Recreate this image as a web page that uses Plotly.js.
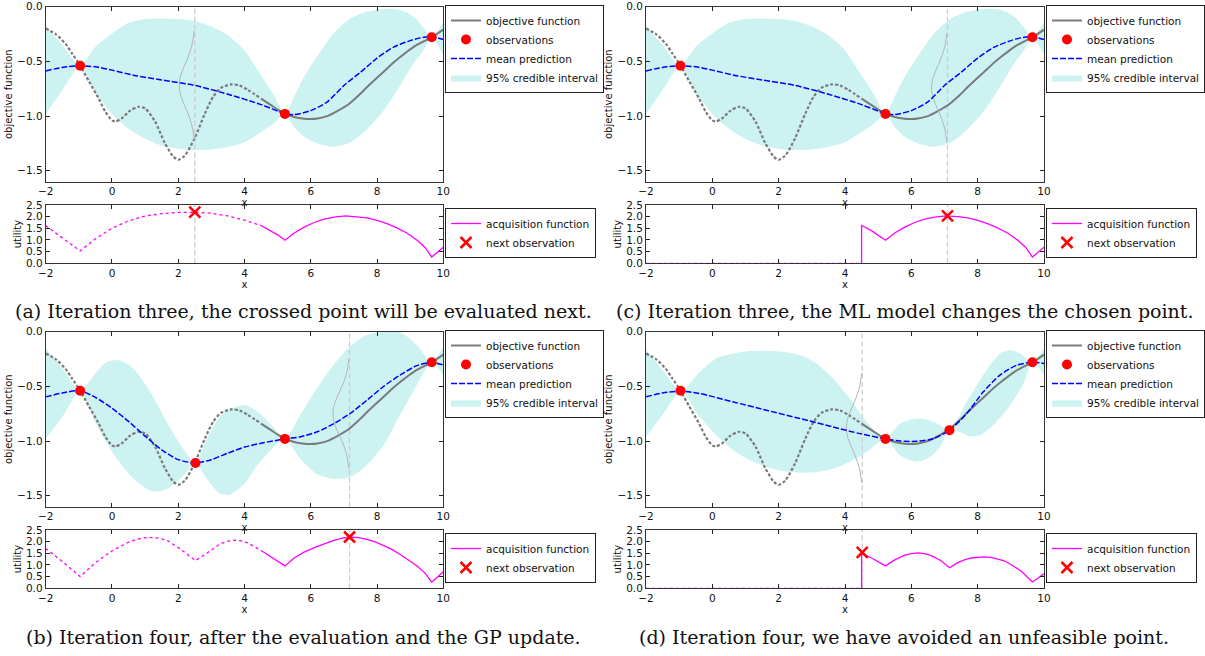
<!DOCTYPE html>
<html>
<head>
<meta charset="utf-8">
<script src="https://cdn.plot.ly/plotly-3.0.1.min.js"></script>
<style>html,body{margin:0;padding:0;background:#fff;}#chart{width:1205px;height:656px;}</style>
</head>
<body>
<div id="chart"></div>
<script>
// ---------------- DATA ----------------
const feasibleFrom = 4.5;

const objectiveX = [-2,-1.7,-1.4,-1.2,-0.96,-0.7,-0.4,-0.2,0,0.1,0.3,0.55,0.8,1.0,1.3,1.6,1.85,2.0,2.2,2.5,2.8,3.06,3.3,3.6,3.85,4.1,4.5,4.8,5.0,5.22,5.5,5.8,6.0,6.2,6.5,6.8,7.15,7.45,7.7,8.0,8.2,8.5,8.7,9.0,9.2,9.45,9.65,10];
const objectiveY = [-0.2,-0.25,-0.34,-0.43,-0.54,-0.68,-0.84,-0.96,-1.04,-1.05,-1.02,-0.95,-0.915,-0.93,-1.05,-1.25,-1.37,-1.4,-1.36,-1.2,-0.98,-0.82,-0.74,-0.71,-0.72,-0.76,-0.84,-0.9,-0.94,-0.98,-1.008,-1.024,-1.027,-1.022,-1.0,-0.955,-0.89,-0.81,-0.735,-0.65,-0.595,-0.51,-0.46,-0.39,-0.35,-0.31,-0.28,-0.21];

// Iteration three (panels a and c share the GP state)
const meanAX = [-2,-1.5,-0.96,-0.5,0,0.65,1.5,2.5,3.5,4.5,5.22,5.5,6.0,6.5,7.0,7.5,8.0,8.5,9.0,9.3,9.65,10];
const meanAY = [-0.587,-0.555,-0.54,-0.55,-0.58,-0.626,-0.67,-0.72,-0.8,-0.895,-0.978,-0.987,-0.95,-0.87,-0.72,-0.6,-0.47,-0.37,-0.31,-0.285,-0.275,-0.3];
const bandAX = [-2,-1.5,-0.96,-0.5,0,0.5,1.0,1.5,2.0,2.5,3.0,3.5,4.0,4.5,4.87,5.22,5.5,5.8,6.2,6.7,7.2,7.7,8.2,8.7,9.1,9.4,9.65,10];
const upperAY = [-0.18,-0.35,-0.54,-0.367,-0.245,-0.147,-0.113,-0.107,-0.113,-0.13,-0.18,-0.26,-0.4,-0.63,-0.8,-0.978,-0.82,-0.64,-0.45,-0.24,-0.107,-0.045,-0.02,-0.03,-0.09,-0.19,-0.28,-0.14];
const lowerAY = [-0.98,-0.764,-0.54,-0.78,-0.98,-1.115,-1.207,-1.27,-1.3,-1.31,-1.305,-1.283,-1.24,-1.146,-1.07,-0.978,-1.1,-1.19,-1.25,-1.28,-1.24,-1.12,-0.95,-0.72,-0.52,-0.4,-0.28,-0.44];
const obsAX = [-0.96,5.22,9.65];
const obsAY = [-0.54,-0.98,-0.28];

// Iteration four (panel b)
const meanBX = [-2,-1.5,-0.96,-0.5,0,0.5,1.0,1.5,2.0,2.52,3.0,3.5,4.0,4.5,5.22,5.7,6.2,6.7,7.2,7.7,8.2,8.7,9.2,9.65,10];
const meanBY = [-0.596,-0.56,-0.54,-0.6,-0.7,-0.82,-0.955,-1.08,-1.17,-1.2,-1.17,-1.11,-1.055,-1.02,-0.98,-0.96,-0.915,-0.84,-0.745,-0.625,-0.5,-0.395,-0.31,-0.28,-0.305];
const upperBX = [-2,-1.5,-0.96,-0.46,-0.16,0.2,0.65,1.15,1.65,2.15,2.52,2.86,3.2,3.46,4.02,4.47,4.87,5.22,5.68,6.18,6.68,7.18,7.69,8.19,8.69,9.2,9.65,10];
const upperBY = [-0.153,-0.33,-0.54,-0.367,-0.275,-0.26,-0.336,-0.55,-0.825,-1.07,-1.2,-0.978,-0.8,-0.72,-0.67,-0.75,-0.871,-0.98,-0.764,-0.52,-0.306,-0.137,-0.031,0,-0.006,-0.122,-0.28,-0.137];
const lowerBX = [-2,-1.5,-0.96,-0.46,0.14,0.65,1.15,1.45,1.85,2.25,2.52,2.86,3.26,3.56,3.96,4.47,5.22,5.68,6.18,6.68,7.18,7.69,8.19,8.69,9.2,9.65,10];
const lowerBY = [-0.978,-0.78,-0.54,-0.855,-1.16,-1.344,-1.451,-1.46,-1.405,-1.283,-1.2,-1.344,-1.48,-1.49,-1.405,-1.19,-0.98,-1.16,-1.3,-1.344,-1.33,-1.22,-1.04,-0.764,-0.489,-0.28,-0.397];
const obsBX = [-0.96,2.52,5.22,9.65];
const obsBY = [-0.54,-1.2,-0.98,-0.28];

// Iteration four with the ML model (panel d)
const meanDX = [-2,-1.5,-0.94,-0.38,0.63,1.63,2.64,3.64,4.45,5.22,5.66,6.16,6.66,7.15,7.67,8.17,8.67,9.18,9.65,10];
const meanDY = [-0.596,-0.56,-0.544,-0.565,-0.642,-0.718,-0.794,-0.871,-0.932,-0.98,-1.0,-1.002,-0.978,-0.9,-0.749,-0.55,-0.397,-0.306,-0.28,-0.29];
const upperDX = [-2,-1.5,-0.94,-0.38,0.12,0.63,1.13,1.63,2.13,2.64,3.14,3.64,4.15,4.65,5.22,5.66,6.16,6.56,6.86,7.15,7.67,8.17,8.67,8.98,9.28,9.65,10];
const upperDY = [-0.168,-0.35,-0.544,-0.367,-0.244,-0.2,-0.177,-0.174,-0.183,-0.214,-0.29,-0.428,-0.611,-0.825,-0.98,-0.84,-0.794,-0.81,-0.856,-0.9,-0.642,-0.397,-0.2,-0.168,-0.2,-0.28,-0.153];
const lowerDX = [-2,-1.5,-0.94,-0.38,0.12,0.63,1.13,1.63,2.13,2.64,3.14,3.64,4.15,4.65,5.22,5.66,6.16,6.56,6.86,7.15,7.46,7.77,8.07,8.47,8.98,9.38,9.65,10];
const lowerDY = [-0.962,-0.76,-0.544,-0.78,-0.947,-1.085,-1.176,-1.237,-1.274,-1.289,-1.283,-1.253,-1.19,-1.1,-0.98,-1.13,-1.19,-1.146,-1.054,-0.9,-0.917,-0.956,-0.947,-0.856,-0.672,-0.474,-0.28,-0.397];
const obsDX = [-0.96,5.22,7.15,9.65];
const obsDY = [-0.54,-0.98,-0.9,-0.28];

// predictive distribution drawn sideways at the next point
const gaussAX = [2.479,2.462,2.437,2.398,2.347,2.285,2.215,2.145,2.085,2.045,2.03,2.045,2.085,2.145,2.215,2.285,2.347,2.398,2.437,2.462,2.479];
const gaussAY = [-0.22,-0.27,-0.32,-0.37,-0.42,-0.47,-0.52,-0.57,-0.62,-0.67,-0.72,-0.77,-0.82,-0.87,-0.92,-0.97,-1.02,-1.07,-1.12,-1.17,-1.22];
const gaussCX = [7.069,7.051,7.026,6.986,6.934,6.87,6.799,6.728,6.666,6.625,6.61,6.625,6.666,6.728,6.799,6.87,6.934,6.986,7.026,7.051,7.069];
const gaussCY = [-0.24,-0.29,-0.34,-0.39,-0.44,-0.49,-0.54,-0.59,-0.64,-0.69,-0.74,-0.79,-0.84,-0.89,-0.94,-0.99,-1.04,-1.09,-1.14,-1.19,-1.24];
const gaussBX = [7.148,7.13,7.102,7.062,7.008,6.941,6.867,6.792,6.729,6.685,6.67,6.685,6.729,6.792,6.867,6.941,7.008,7.062,7.102,7.13,7.148];
const gaussBY = [-0.25,-0.3,-0.35,-0.4,-0.45,-0.5,-0.55,-0.6,-0.65,-0.7,-0.75,-0.8,-0.85,-0.9,-0.95,-1.0,-1.05,-1.1,-1.15,-1.2,-1.25];
const gaussDX = [4.499,4.481,4.456,4.416,4.364,4.3,4.229,4.158,4.096,4.055,4.04,4.055,4.096,4.158,4.229,4.3,4.364,4.416,4.456,4.481,4.499];
const gaussDY = [-0.38,-0.43,-0.48,-0.53,-0.58,-0.63,-0.68,-0.73,-0.78,-0.83,-0.88,-0.93,-0.98,-1.03,-1.08,-1.13,-1.18,-1.23,-1.28,-1.33,-1.38];

// acquisition functions
const acqAX = [-2,-1.5,-0.96,-0.5,0,0.5,1.0,1.5,2.0,2.5,3.0,3.5,4.0,4.5,4.8,5.0,5.22,5.5,5.8,6.1,6.4,6.7,7.05,7.4,7.7,8.0,8.3,8.6,8.9,9.2,9.45,9.65,10];
const acqAY = [1.61,1.1,0.53,1.05,1.5,1.82,2.03,2.13,2.18,2.19,2.15,2.03,1.85,1.62,1.4,1.22,0.99,1.3,1.55,1.75,1.89,1.98,2.03,2.0,1.95,1.84,1.7,1.52,1.3,1.0,0.68,0.27,0.69];
const acqCX = [-2,4.5,4.5,4.8,5.0,5.22,5.5,5.8,6.1,6.4,6.7,7.05,7.4,7.7,8.0,8.3,8.6,8.9,9.2,9.45,9.65,10];
const acqCY = [0,0,1.62,1.4,1.22,0.99,1.3,1.55,1.75,1.89,1.98,2.03,2.0,1.95,1.84,1.7,1.52,1.3,1.0,0.68,0.27,0.69];
const acqBX = [-2,-1.5,-0.96,-0.5,0,0.5,0.8,1.1,1.4,1.65,2.05,2.52,2.86,3.26,3.5,3.7,3.9,4.1,4.5,4.87,5.22,5.5,5.8,6.18,6.45,6.68,6.95,7.17,7.45,7.69,7.95,8.19,8.45,8.7,8.95,9.2,9.45,9.65,10];
const acqBY = [1.71,1.15,0.5,1.1,1.6,1.98,2.12,2.19,2.15,2.07,1.7,1.19,1.5,1.9,2.02,2.06,2.03,1.95,1.62,1.29,0.96,1.3,1.55,1.79,1.94,2.04,2.15,2.2,2.17,2.1,1.99,1.85,1.67,1.45,1.22,0.97,0.65,0.26,0.71];
const acqDX = [-2,4.5,4.5,4.8,5.0,5.22,5.5,5.8,6.0,6.2,6.4,6.6,6.9,7.15,7.4,7.6,7.8,8.0,8.2,8.4,8.6,8.8,9.0,9.3,9.65,10];
const acqDY = [0,0,1.5,1.3,1.15,0.96,1.22,1.42,1.49,1.52,1.49,1.4,1.18,0.88,1.1,1.22,1.3,1.34,1.35,1.33,1.27,1.18,1.02,0.75,0.27,0.62];

const nextAX = [2.5],  nextAY = [2.19];
const nextCX = [7.09], nextCY = [2.03];
const nextBX = [7.17], nextBY = [2.2];
const nextDX = [4.52], nextDY = [1.54];

const captions = [
  "(a) Iteration three, the crossed point will be evaluated next.",
  "(c) Iteration three, the ML model changes the chosen point.",
  "(b) Iteration four, after the evaluation and the GP update.",
  "(d) Iteration four, we have avoided an unfeasible point."
];
const legendLabels = ["objective function","observations","mean prediction","95% credible interval","acquisition function","next observation"];
const xTicks = [-2,0,2,4,6,8,10];

// ---------------- PLOTTING ----------------
const W = 1205, H = 656;
const yRangeMain = [-1.6, 0], yRangeAcq = [0, 2.5];

function split(xs, ys) {
  const k = xs.findIndex(v => v >= feasibleFrom);
  return {ix: xs.slice(0, k + 1), iy: ys.slice(0, k + 1), fx: xs.slice(k), fy: ys.slice(k)};
}

const panels = [
  {mean:[meanAX,meanAY], up:[bandAX,upperAY], lo:[bandAX,lowerAY], obs:[obsAX,obsAY], g:[gaussAX,gaussAY], acq:[acqAX,acqAY], nx:[nextAX,nextAY], col:0, row:0},
  {mean:[meanAX,meanAY], up:[bandAX,upperAY], lo:[bandAX,lowerAY], obs:[obsAX,obsAY], g:[gaussCX,gaussCY], acq:[acqCX,acqCY], nx:[nextCX,nextCY], col:1, row:0},
  {mean:[meanBX,meanBY], up:[upperBX,upperBY], lo:[lowerBX,lowerBY], obs:[obsBX,obsBY], g:[gaussBX,gaussBY], acq:[acqBX,acqBY], nx:[nextBX,nextBY], col:0, row:1},
  {mean:[meanDX,meanDY], up:[upperDX,upperDY], lo:[lowerDX,lowerDY], obs:[obsDX,obsDY], g:[gaussDX,gaussDY], acq:[acqDX,acqDY], nx:[nextDX,nextDY], col:1, row:1}
];

const colPx = [[45.7, 443.3], [646.0, 1044.0]];
const rowMainPx = [[6.7, 181.7], [331.7, 506.7]];
const rowAcqPx = [[205.0, 263.3], [530.0, 588.3]];
const legendXPx = [445, 1046];
const legMainTopPx = [5, 330];
const legAcqTopPx = [208, 533];
const capCenterPx = [303, 904];
const capYPx = [311, 637];

const GRAY = '#7a7a7a', BLUE = '#0000ff', CYAN = '#ccf2f2', MAG = '#ff00ff', RED = '#ff0000';
const tickFont = {family:'DejaVu Sans', size:10.5, color:'#111'};
const titleFont = {family:'DejaVu Sans', size:10, color:'#111'};

const data = [];
const layout = {
  width: W, height: H, margin: {l:0, r:0, t:0, b:0},
  paper_bgcolor: '#fff', plot_bgcolor: '#fff',
  showlegend: true, annotations: []
};

function axisCommon() {
  return {ticks:'inside', ticklen:4, tickwidth:1, tickcolor:'#222', mirror:'ticks', showline:true,
          linecolor:'#333', linewidth:1, showgrid:false, zeroline:false, tickfont:tickFont};
}

panels.forEach((p, i) => {
  const mi = 2*i + 1, ai = 2*i + 2;
  const mx = 'x' + (mi === 1 ? '' : mi), my = 'y' + (mi === 1 ? '' : mi);
  const ax = 'x' + ai, ay = 'y' + ai;
  const legM = 'legend' + (mi === 1 ? '' : mi), legA = 'legend' + ai;
  const cx = colPx[p.col], rm = rowMainPx[p.row], ra = rowAcqPx[p.row];

  layout['xaxis' + (mi === 1 ? '' : mi)] = Object.assign(axisCommon(), {
    domain:[cx[0]/W, cx[1]/W], range:[-2,10], tickvals:xTicks, anchor:my,
    title:{text:'x', font:titleFont, standoff:0}
  });
  layout['yaxis' + (mi === 1 ? '' : mi)] = Object.assign(axisCommon(), {
    domain:[1 - rm[1]/H, 1 - rm[0]/H], range:yRangeMain, dtick:0.5, tick0:0, tickformat:'.1f', anchor:mx,
    title:{text:'objective function', font:titleFont, standoff:2}
  });
  layout['xaxis' + ai] = Object.assign(axisCommon(), {
    domain:[cx[0]/W, cx[1]/W], range:[-2,10], tickvals:xTicks, anchor:ay,
    title:{text:'x', font:titleFont, standoff:0}
  });
  layout['yaxis' + ai] = Object.assign(axisCommon(), {
    domain:[1 - ra[1]/H, 1 - ra[0]/H], range:yRangeAcq, dtick:0.5, tick0:0, tickformat:'.1f', anchor:ax,
    title:{text:'utility', font:titleFont, standoff:2}
  });

  const legCommon = {xanchor:'left', yanchor:'top', bgcolor:'#fff', bordercolor:'#222', borderwidth:1, traceorder:'normal',
                     font:{family:'DejaVu Sans', size:10.5, color:'#111'}, itemwidth:30, tracegroupgap:0};
  layout[legM] = Object.assign({}, legCommon, {x: legendXPx[p.col]/W, y: 1 - legMainTopPx[p.row]/H});
  layout[legA] = Object.assign({}, legCommon, {x: legendXPx[p.col]/W, y: 1 - legAcqTopPx[p.row]/H});

  // credible interval
  data.push({x:p.lo[0], y:p.lo[1], xaxis:mx, yaxis:my, mode:'lines', line:{width:0, color:CYAN, shape:'spline', smoothing:0.7},
             showlegend:false, hoverinfo:'skip', legend:legM});
  data.push({x:p.up[0], y:p.up[1], xaxis:mx, yaxis:my, mode:'lines', fill:'tonexty', fillcolor:CYAN,
             line:{width:0, color:CYAN, shape:'spline', smoothing:0.7}, name:legendLabels[3], legend:legM, legendrank:4});
  // vertical marker line at next point (main)
  data.push({x:[p.nx[0][0], p.nx[0][0]], y:yRangeMain, xaxis:mx, yaxis:my, mode:'lines',
             line:{color:'#cccccc', width:1.3, dash:'5px,3px'}, showlegend:false, hoverinfo:'skip'});
  // objective
  const o = split(objectiveX, objectiveY);
  data.push({x:o.ix, y:o.iy, xaxis:mx, yaxis:my, mode:'lines', line:{color:GRAY, width:2.2, dash:'3px,2px', shape:'spline', smoothing:0.7},
             showlegend:false, legend:legM});
  data.push({x:o.fx, y:o.fy, xaxis:mx, yaxis:my, mode:'lines', line:{color:GRAY, width:2, shape:'spline', smoothing:0.7},
             name:legendLabels[0], legend:legM, legendrank:1});
  // gaussian
  data.push({x:p.g[0], y:p.g[1], xaxis:mx, yaxis:my, mode:'lines', line:{color:'#b5b5b5', width:1, shape:'spline'},
             showlegend:false, hoverinfo:'skip'});
  // mean
  data.push({x:p.mean[0], y:p.mean[1], xaxis:mx, yaxis:my, mode:'lines', line:{color:BLUE, width:1.5, dash:'6px,2px', shape:'spline', smoothing:0.7},
             name:legendLabels[2], legend:legM, legendrank:3});
  // observations
  data.push({x:p.obs[0], y:p.obs[1], xaxis:mx, yaxis:my, mode:'markers', marker:{color:RED, size:10, line:{width:0}},
             name:legendLabels[1], legend:legM, legendrank:2});

  // acquisition
  data.push({x:[p.nx[0][0], p.nx[0][0]], y:yRangeAcq, xaxis:ax, yaxis:ay, mode:'lines',
             line:{color:'#cccccc', width:1.3, dash:'5px,3px'}, showlegend:false, hoverinfo:'skip'});
  const a = split(p.acq[0], p.acq[1]);
  data.push({x:a.ix, y:a.iy, xaxis:ax, yaxis:ay, mode:'lines', line:{color:MAG, width:1.3, dash:'3px,3px'},
             showlegend:false, legend:legA});
  data.push({x:a.fx, y:a.fy, xaxis:ax, yaxis:ay, mode:'lines', line:{color:MAG, width:1.3},
             name:legendLabels[4], legend:legA, legendrank:1});
  data.push({x:p.nx[0], y:p.nx[1], xaxis:ax, yaxis:ay, mode:'markers',
             marker:{symbol:'x-thin-open', size:11, color:RED, line:{color:RED, width:2.5}},
             name:legendLabels[5], legend:legA, legendrank:2});

  layout.annotations.push({text:captions[i], xref:'paper', yref:'paper', x:capCenterPx[p.col]/W, y:1 - capYPx[p.row]/H,
    xanchor:'center', yanchor:'middle', showarrow:false, font:{family:'DejaVu Serif', size:19, color:'#111'}});
});

Plotly.newPlot('chart', data, layout, {displayModeBar:false, staticPlot:true});
</script>
</body>
</html>
